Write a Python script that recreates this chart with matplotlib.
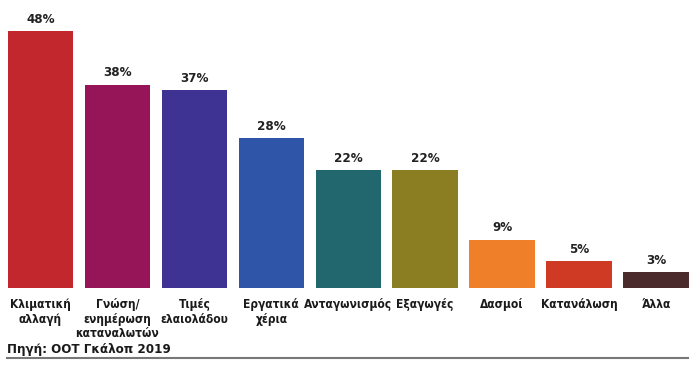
import matplotlib
matplotlib.use("Agg")
import matplotlib.pyplot as plt
from matplotlib.lines import Line2D

plt.rcParams['font.family'] = ['DejaVu Sans']
plt.rcParams['font.stretch'] = 'condensed'

# data
categories = ['Κλιματική\nαλλαγή', 'Γνώση/\nενημέρωση\nκαταναλωτών', 'Τιμές\nελαιολάδου',
              'Εργατικά\nχέρια', 'Ανταγωνισμός', 'Εξαγωγές', 'Δασμοί', 'Κατανάλωση', 'Άλλα']
values = [48, 38, 37, 28, 22, 22, 9, 5, 3]
colors = ['#C1272D', '#951558', '#3E3392', '#2E55A8', '#22666E',
          '#8B7D22', '#F07F2A', '#CF3A24', '#4A2A2A']
source = 'Πηγή: ΟΟΤ Γκάλοπ 2019'

fig = plt.figure(figsize=(7, 3.85), dpi=100)
ax = fig.add_axes([0.003, 0.252, 0.989, 0.748])

x = range(len(values))
bars = ax.bar(x, values, width=0.85, color=colors)
for b, v in zip(bars, values):
    ax.text(b.get_x() + b.get_width() / 2, v + 1.0, '{}%'.format(v),
            ha='center', va='bottom', fontsize=9.5, fontweight='bold', color='#222222')

ax.set_xlim(-0.5, len(values) - 0.5)
ax.set_ylim(0, 53.8)
ax.set_xticks(list(x))
ax.set_xticklabels(categories, fontsize=8.6, fontweight='bold', color='#1a1a1a',
                   linespacing=1.18, va='top')
ax.tick_params(axis='x', length=0, pad=7)
ax.set_yticks([])
for s in ax.spines.values():
    s.set_visible(False)

# source and bottom rule
fig.text(7 / 700, 1 - 350 / 385, source, ha='left', va='center',
         fontsize=9.5, fontweight='bold', color='#1a1a1a')
fig.add_artist(Line2D([7 / 700, 688 / 700], [1 - 358 / 385, 1 - 358 / 385],
                      color='#777777', linewidth=1.5))

fig.savefig('out.png', dpi=100)
